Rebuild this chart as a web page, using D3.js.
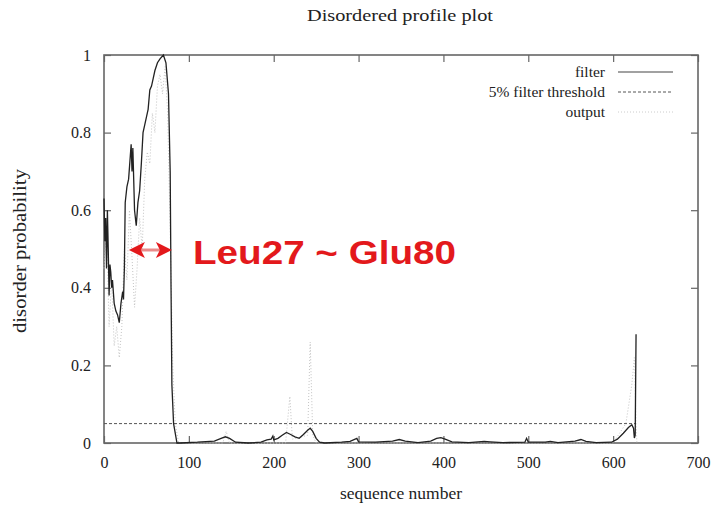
<!DOCTYPE html>
<html>
<head>
<meta charset="utf-8">
<script src="https://cdn.jsdelivr.net/npm/d3@7"></script>
<style>
  html, body { margin: 0; padding: 0; background: #fff; }
  svg { display: block; }
</style>
</head>
<body>
<svg id="chart" width="718" height="505"></svg>
<script>
// ---- data ----
const xTicks = [0, 100, 200, 300, 400, 500, 600, 700];
const yTicks = [0, 0.2, 0.4, 0.6, 0.8, 1];
const yTickLabels = ["0", "0.2", "0.4", "0.6", "0.8", "1"];
const threshold = 0.05;

const filterSeq = [0, 1, 2, 3, 4, 5, 6, 7, 8, 9, 10, 12, 14, 16, 18, 20, 22, 23, 24, 25, 27, 29, 31, 32, 33, 34, 36, 38, 40, 42, 44, 46, 48, 50, 52, 54, 56, 58, 60, 63, 66, 70, 73, 76, 78, 79, 80, 82, 86,
  90, 110, 130, 138, 143, 148, 155, 170, 185, 192, 197, 199, 200, 205, 210, 215, 220, 225, 230, 235, 240, 243, 246, 250, 254, 260, 280, 290, 298, 300, 320, 340, 348, 355, 370, 385, 392, 397, 402, 410, 430, 448, 455, 470, 496, 498, 500, 520, 526, 535, 555, 562, 568, 580, 598, 605, 612, 618, 622, 624, 625, 626, 627];
const filterVal = [0.63, 0.52, 0.58, 0.45, 0.60, 0.50, 0.38, 0.46, 0.44, 0.40, 0.42, 0.36, 0.34, 0.33, 0.31, 0.36, 0.39, 0.37, 0.45, 0.62, 0.66, 0.68, 0.74, 0.77, 0.70, 0.76, 0.60, 0.56, 0.62, 0.65, 0.72, 0.80, 0.82, 0.84, 0.86, 0.91, 0.92, 0.94, 0.96, 0.98, 0.99, 1.0, 0.98, 0.90, 0.70, 0.40, 0.15, 0.05, 0.0,
  0.0, 0.002, 0.005, 0.012, 0.016, 0.012, 0.002, 0.0, 0.002, 0.008, 0.01, 0.018, 0.008, 0.012, 0.02, 0.027, 0.022, 0.016, 0.012, 0.022, 0.033, 0.038, 0.03, 0.012, 0.002, 0.0, 0.002, 0.004, 0.012, 0.003, 0.002, 0.005, 0.009, 0.005, 0.001, 0.005, 0.012, 0.014, 0.01, 0.003, 0.001, 0.004, 0.003, 0.001, 0.002, 0.012, 0.002, 0.002, 0.004, 0.001, 0.005, 0.009, 0.004, 0.001, 0.002, 0.01, 0.025, 0.04, 0.047, 0.038, 0.013, 0.02, 0.28];

const outputSeq = [0, 3, 6, 9, 12, 15, 18, 21, 24, 27, 30, 33, 36, 39, 42, 45, 48, 51, 54, 57, 60, 63, 66, 69, 72, 75, 78, 81, 84, 88, 140, 144, 148, 214, 219, 222, 240, 243, 246, 250, 600, 615, 622, 625, 627, 628];
const outputVal = [0.45, 0.55, 0.30, 0.42, 0.25, 0.30, 0.22, 0.30, 0.50, 0.42, 0.60, 0.48, 0.35, 0.45, 0.58, 0.50, 0.68, 0.75, 0.72, 0.85, 0.80, 0.92, 0.95, 0.90, 0.97, 0.85, 0.55, 0.20, 0.05, 0.0, 0.0, 0.03, 0.0, 0.0, 0.12, 0.01, 0.02, 0.26, 0.02, 0.0, 0.0, 0.05, 0.15, 0.22, 0.05, 0.0];

const legendLabels = ["filter", "5% filter threshold", "output"];
const annotationText = "Leu27 ~ Glu80";
const annotationRange = [27, 80];

// ---- drawing ----
const svg = d3.select("#chart");
const serif = "'Liberation Serif', 'DejaVu Serif', serif";
const plotLeft = 104, plotRight = 698, plotTop = 55, plotBottom = 443;

const x = d3.scaleLinear().domain([0, 700]).range([plotLeft, plotRight]);
const y = d3.scaleLinear().domain([0, 1]).range([plotBottom, plotTop]);

// title
svg.append("text").attr("x", 400).attr("y", 21).attr("text-anchor", "middle")
  .attr("textLength", 186).attr("lengthAdjust", "spacingAndGlyphs")
  .style("font-family", serif).style("font-size", "17px").attr("fill", "#222")
  .text("Disordered profile plot");

// axes with inward ticks
const frameColor = "#666";
const xAxis = svg.append("g").attr("transform", `translate(0,${plotBottom})`)
  .call(d3.axisBottom(x).tickValues(xTicks).tickSize(-7).tickPadding(14).tickFormat(d3.format("d")));
const xAxisTop = svg.append("g").attr("transform", `translate(0,${plotTop})`)
  .call(d3.axisTop(x).tickValues(xTicks).tickSize(-7).tickFormat(""));
const yAxis = svg.append("g").attr("transform", `translate(${plotLeft},0)`)
  .call(d3.axisLeft(y).tickValues(yTicks).tickSize(-7).tickPadding(13).tickFormat((d, i) => yTickLabels[i]));
const yAxisRight = svg.append("g").attr("transform", `translate(${plotRight},0)`)
  .call(d3.axisRight(y).tickValues(yTicks).tickSize(-7).tickFormat(""));
[xAxis, xAxisTop, yAxis, yAxisRight].forEach(g => {
  g.select(".domain").remove();
  g.selectAll(".tick line").attr("stroke", frameColor).attr("stroke-width", 1.2);
  g.selectAll("text").style("font-family", serif).style("font-size", "16px").attr("fill", "#222");
});

// frame
svg.append("rect").attr("x", plotLeft).attr("y", plotTop).attr("width", plotRight - plotLeft).attr("height", plotBottom - plotTop)
  .attr("fill", "none").attr("stroke", frameColor).attr("stroke-width", 1.6);

// axis titles
svg.append("text").attr("x", 401).attr("y", 499).attr("text-anchor", "middle")
  .attr("textLength", 122).attr("lengthAdjust", "spacingAndGlyphs")
  .style("font-family", serif).style("font-size", "17px").attr("fill", "#222")
  .text("sequence number");
svg.append("text").attr("transform", "translate(26,251) rotate(-90)").attr("text-anchor", "middle")
  .attr("textLength", 164).attr("lengthAdjust", "spacingAndGlyphs")
  .style("font-family", serif).style("font-size", "18px").attr("fill", "#222")
  .text("disorder probability");

// series
const line = d3.line().x(d => x(d[0])).y(d => y(d[1]));
const outputData = outputSeq.map((s, i) => [s, outputVal[i]]);
const filterData = filterSeq.map((s, i) => [s, filterVal[i]]);

svg.append("path").datum(outputData).attr("d", line)
  .attr("fill", "none").attr("stroke", "#c4c4c4").attr("stroke-width", 1).attr("stroke-dasharray", "1,2");

svg.append("path").datum([[0, threshold], [627, threshold]]).attr("d", line)
  .attr("fill", "none").attr("stroke", "#555").attr("stroke-width", 1).attr("stroke-dasharray", "3,2");

svg.append("path").datum(filterData).attr("d", line)
  .attr("fill", "none").attr("stroke", "#222").attr("stroke-width", 1.3);

// legend
const legY = [72, 92, 112];
const legStyles = [
  { stroke: "#444", dash: null, w: 1.2 },
  { stroke: "#555", dash: "3,2", w: 1 },
  { stroke: "#ccc", dash: "1,2", w: 1 }
];
legendLabels.forEach((lab, i) => {
  svg.append("text").attr("x", 605).attr("y", legY[i] + 5).attr("text-anchor", "end")
    .style("font-family", serif).style("font-size", "15.5px").attr("fill", "#222").text(lab);
  svg.append("line").attr("x1", 618).attr("x2", 673).attr("y1", legY[i]).attr("y2", legY[i])
    .attr("stroke", legStyles[i].stroke).attr("stroke-width", legStyles[i].w)
    .attr("stroke-dasharray", legStyles[i].dash);
});

// annotation: double arrow + label
const red = "#e3191c";
const ax1 = x(annotationRange[0]) + 2, ax2 = x(annotationRange[1]), ay = 250;
svg.append("line").attr("x1", ax1 + 10).attr("x2", ax2 - 10).attr("y1", ay).attr("y2", ay)
  .attr("stroke", "#ea8a8a").attr("stroke-width", 3);
svg.append("path").attr("d", `M${ax1},${ay} L${ax1 + 16},${ay - 8} L${ax1 + 12},${ay} L${ax1 + 16},${ay + 8} Z`)
  .attr("fill", red);
svg.append("path").attr("d", `M${ax2},${ay} L${ax2 - 16},${ay - 8} L${ax2 - 12},${ay} L${ax2 - 16},${ay + 8} Z`)
  .attr("fill", red);
svg.append("text").attr("x", 193).attr("y", 264)
  .attr("textLength", 263).attr("lengthAdjust", "spacingAndGlyphs")
  .style("font-family", "'Liberation Sans', Arial, sans-serif").style("font-weight", "bold")
  .style("font-size", "33px").attr("fill", red).text(annotationText);
</script>
</body>
</html>
